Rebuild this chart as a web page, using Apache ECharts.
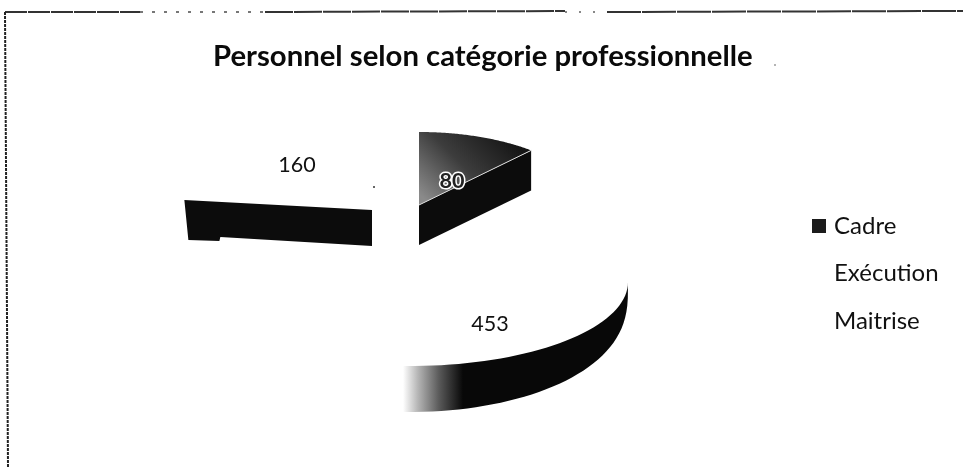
<!DOCTYPE html>
<html>
<head>
<meta charset="utf-8">
<style>
html, body { margin: 0; padding: 0; background: #fff; }
#chart { width: 963px; height: 468px; }
</style>
<script src="https://cdn.jsdelivr.net/npm/echarts@6/dist/echarts.min.js"></script>
</head>
<body>
<div id="chart"></div>
<script>
var categories = ["Cadre", "Exécution", "Maitrise"];
var values = [80, 453, 160];
var legendColors = ["#1c1c1c", "#ffffff", "#ffffff"];

// hand placed 3d look, one entry per slice (exploded, with perspective)
var slices = [
    { ax: 419, ay: 205, rx: 169, ry: 73, depth: 40, lx: 452, ly: 181 },
    { ax: 410, ay: 282, rx: 218, ry: 84, depth: 46, lx: 490, ly: 324 },
    { ax: 372, ay: 210, rx: 189, ry: 83, depth: 36, lx: 297, ly: 165 }
];

var total = values.reduce(function (a, b) { return a + b; }, 0);
var starts = [];
values.reduce(function (acc, v, i) {
    starts[i] = acc;
    return acc + v / total * 2 * Math.PI;
}, 0);

function pt(s, a, dy) {
    return [s.ax + s.rx * Math.sin(a), s.ay - s.ry * Math.cos(a) + (dy || 0)];
}

function arc(s, a0, a1, dy) {
    var pts = [], n = 80;
    for (var i = 0; i <= n; i++) {
        pts.push(pt(s, a0 + (a1 - a0) * i / n, dy));
    }
    return pts;
}

// lower rim of the big slice, wall gets thin towards the right tip
function lowerRim(s, a0, a1) {
    var pts = [], n = 80;
    for (var i = 0; i <= n; i++) {
        var a = a0 + (a1 - a0) * i / n;
        pts.push(pt(s, a, s.depth * Math.pow(Math.abs(Math.cos(a)), 0.4)));
    }
    return pts;
}

function poly(points, style) {
    return { type: "polygon", shape: { points: points }, style: style };
}

function label(s, text, extra) {
    return {
        type: "text",
        z2: 10,
        style: Object.assign({
            x: s.lx, y: s.ly, text: text, fill: "#111",
            font: "21.5px Lato", textAlign: "center", textVerticalAlign: "middle"
        }, extra || {})
    };
}

function renderSlice(idx) {
    return function (params, api) {
        var v = api.value(0);
        var s = slices[idx];
        var a0 = starts[idx], a1 = a0 + v / total * 2 * Math.PI;
        var apex = [s.ax, s.ay], apexLow = [s.ax, s.ay + s.depth];
        var children = [];

        if (idx === 0) {
            // grey top, dark cut side
            var end = pt(s, a1), endLow = pt(s, a1, s.depth);
            children.push(poly([apex].concat(arc(s, a0, a1)), {
                fill: { type: "linear", x: 0.75, y: 0, x2: 0.1, y2: 1, colorStops: [
                    { offset: 0, color: "#161616" },
                    { offset: 0.5, color: "#3c3c3c" },
                    { offset: 1, color: "#8a8a8a" }
                ] }
            }));
            children.push(poly([apex, end, endLow, apexLow], { fill: "#0c0c0c" }));
            children.push({
                type: "line",
                shape: { x1: apex[0], y1: apex[1], x2: end[0], y2: end[1] },
                style: { stroke: "#ddd", lineWidth: 1 }
            });
            children.push(label(s, String(v), {
                fill: "#222", stroke: "#fff", lineWidth: 3, font: "bold 21.5px Lato"
            }));
        } else if (idx === 1) {
            // only the outer wall shows, fading out on the left
            var up = arc(s, Math.PI / 2, a1);
            var low = lowerRim(s, Math.PI / 2, a1).reverse();
            children.push(poly(up.concat(low), {
                fill: { type: "linear", global: true, x: 403, y: 0, x2: 463, y2: 0, colorStops: [
                    { offset: 0, color: "#fff" },
                    { offset: 0.25, color: "#b5b5b5" },
                    { offset: 0.6, color: "#5a5a5a" },
                    { offset: 1, color: "#080808" }
                ] }
            }));
            children.push(label(s, String(v)));
        } else {
            // cut side only, with the small step at the outer bottom
            var edge = pt(s, a0);
            children.push(poly([
                apex,
                edge,
                [edge[0] + 4, edge[1] + 40],
                [edge[0] + 35, edge[1] + 41],
                [edge[0] + 36, edge[1] + 37],
                apexLow
            ], { fill: "#0c0c0c" }));
            children.push(label(s, String(v)));
        }
        return { type: "group", children: children };
    };
}

var chart = echarts.init(document.getElementById("chart"));

var series = categories.map(function (name, i) {
    return {
        name: name,
        type: "custom",
        coordinateSystem: "none",
        silent: true,
        itemStyle: { color: legendColors[i] },
        renderItem: renderSlice(i),
        data: [[values[i]]]
    };
});

function scanLine(x1, y1, x2, y2, color, dash) {
    return { type: "line", shape: { x1: x1, y1: y1, x2: x2, y2: y2 }, style: { stroke: color, lineWidth: 2, lineDash: dash } };
}

chart.setOption({
    animation: false,
    backgroundColor: "#fff",
    title: {
        text: "Personnel selon catégorie professionnelle",
        left: 208,
        top: 37,
        textStyle: { fontFamily: "Lato", fontWeight: "bold", fontSize: 29.3, color: "#0a0a0a" }
    },
    legend: {
        orient: "vertical",
        left: 807,
        top: 209,
        itemWidth: 14,
        itemHeight: 14,
        itemGap: 23.5,
        icon: "rect",
        selectedMode: false,
        data: categories,
        textStyle: { fontFamily: "Lato", fontSize: 24, lineHeight: 24, color: "#111", padding: [0, 0, 0, 3] }
    },
    graphic: [
        scanLine(5, 12, 140, 12, "#333", [22, 1]),
        scanLine(140, 12, 265, 12, "#777", [3, 9]),
        scanLine(265, 12, 565, 11, "#333", [28, 1]),
        scanLine(565, 12, 607, 12, "#888", [2, 12]),
        scanLine(607, 12, 963, 11, "#333", [34, 1]),
        scanLine(5, 12, 8, 468, "#222", [3, 1]),
        { type: "circle", shape: { cx: 775, cy: 65, r: 0.8 }, style: { fill: "#555" } },
        { type: "circle", shape: { cx: 374, cy: 187, r: 1 }, style: { fill: "#333" } }
    ],
    series: series
});
</script>
</body>
</html>
